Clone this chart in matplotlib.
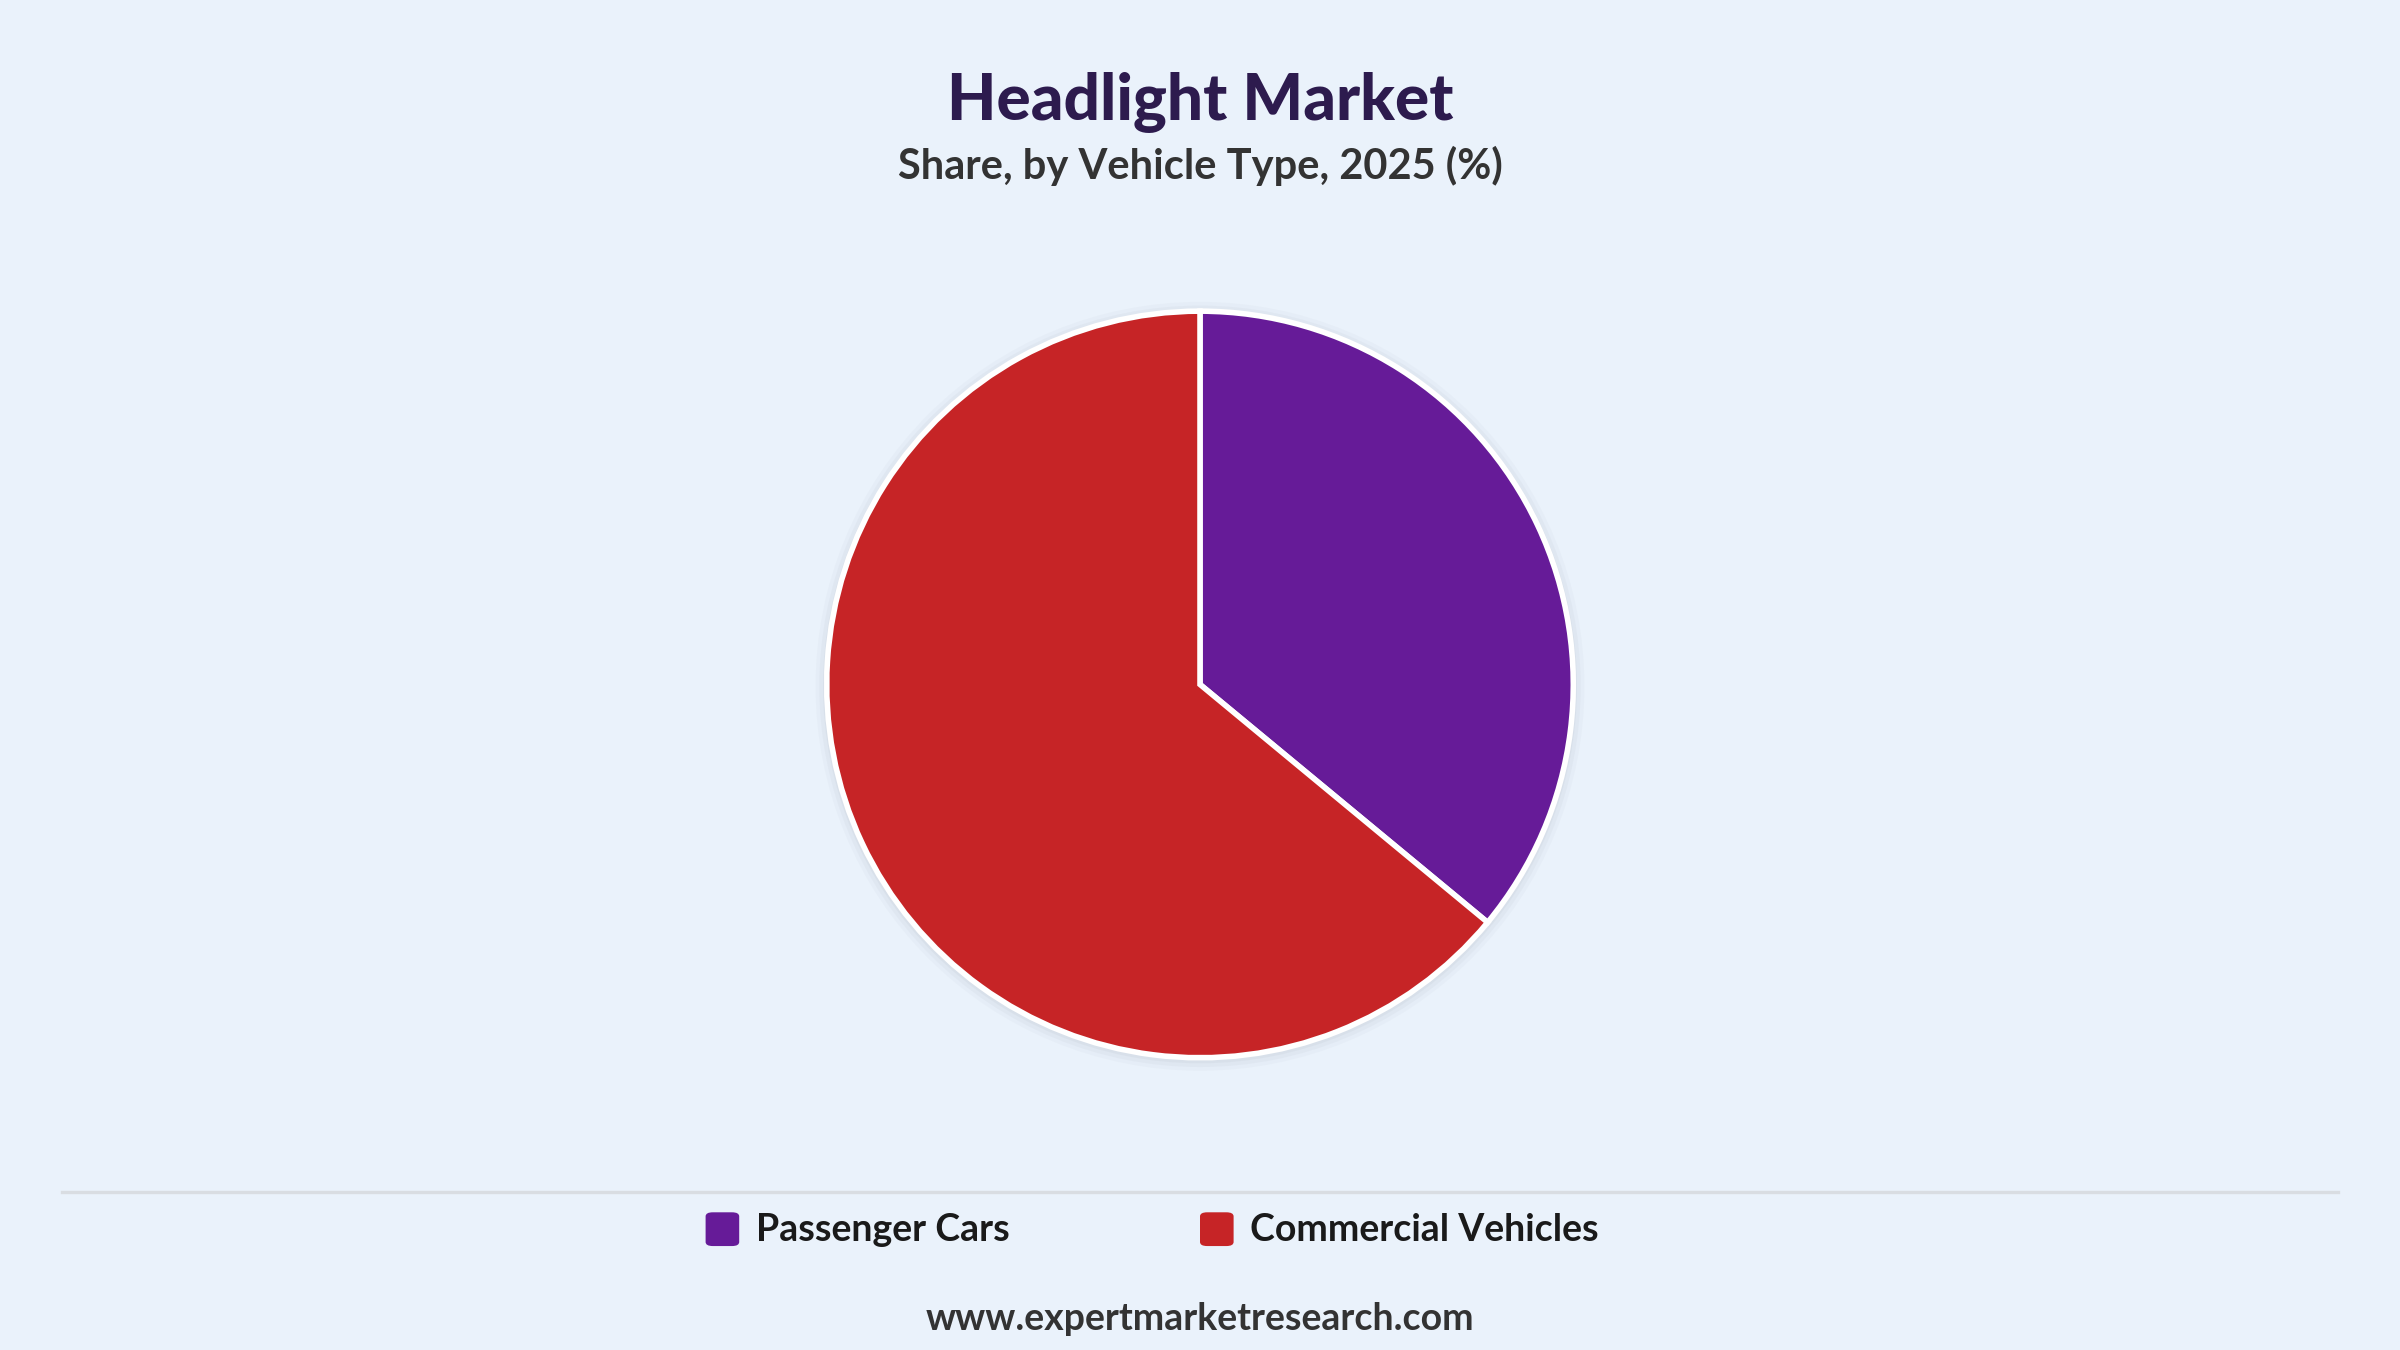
import matplotlib
matplotlib.use("Agg")
import matplotlib.pyplot as plt
from matplotlib.patches import FancyBboxPatch
from matplotlib.lines import Line2D

categories = ["Passenger Cars", "Commercial Vehicles"]
values = [36, 64]
colors = ["#661b98", "#c62426"]

bg = "#eaf2fb"
plt.rcParams['font.family'] = ['Lato', 'DejaVu Sans']
fig = plt.figure(figsize=(12, 6.75), dpi=200, facecolor=bg)

h = 0.553
w = h * 1350 / 2400
ax = fig.add_axes([0.5 - w / 2, 0.493 - h / 2, w, h])
ax.set_facecolor(bg)
for r, a in [(1.03, 0.05), (1.02, 0.07), (1.01, 0.09)]:
    ax.add_patch(plt.Circle((0.0, -0.005), r, color="#9aa3ad", alpha=a, lw=0, clip_on=False))
wedges, _ = ax.pie(values, colors=colors, startangle=90, counterclock=False,
                   wedgeprops=dict(edgecolor="white", linewidth=2))
for wdg in wedges:
    wdg.set_clip_on(False)
ax.set_xlim(-1.0, 1.0)
ax.set_ylim(-1.0, 1.0)
ax.set_aspect("equal")
ax.axis("off")

fig.text(0.5, 0.924, "Headlight Market", ha="center", va="center",
         fontsize=23, fontweight="black", color="#2d1b4e")
fig.text(0.5, 0.877, "Share, by Vehicle Type, 2025 (%)", ha="center", va="center",
         fontsize=15, fontweight="bold", color="#333333")

fig.add_artist(Line2D([0.026, 0.974], [0.117, 0.117], transform=fig.transFigure,
                      color="#d9dde2", lw=1.2))

leg_x = [0.294, 0.5]
for x, c, lab in zip(leg_x, colors, categories):
    fig.add_artist(FancyBboxPatch((x, 0.077), 0.014, 0.025, transform=fig.transFigure,
                                  boxstyle="round,pad=0,rounding_size=0.003",
                                  facecolor=c, edgecolor="none"))
    fig.text(x + 0.021, 0.089, lab, ha="left", va="center", fontsize=13.5,
             fontweight="bold", color="#1a1a1a")

fig.text(0.5, 0.023, "www.expertmarketresearch.com", ha="center", va="center",
         fontsize=13.5, fontweight="bold", color="#333333")

fig.savefig("out.png", dpi=200, facecolor=bg)
